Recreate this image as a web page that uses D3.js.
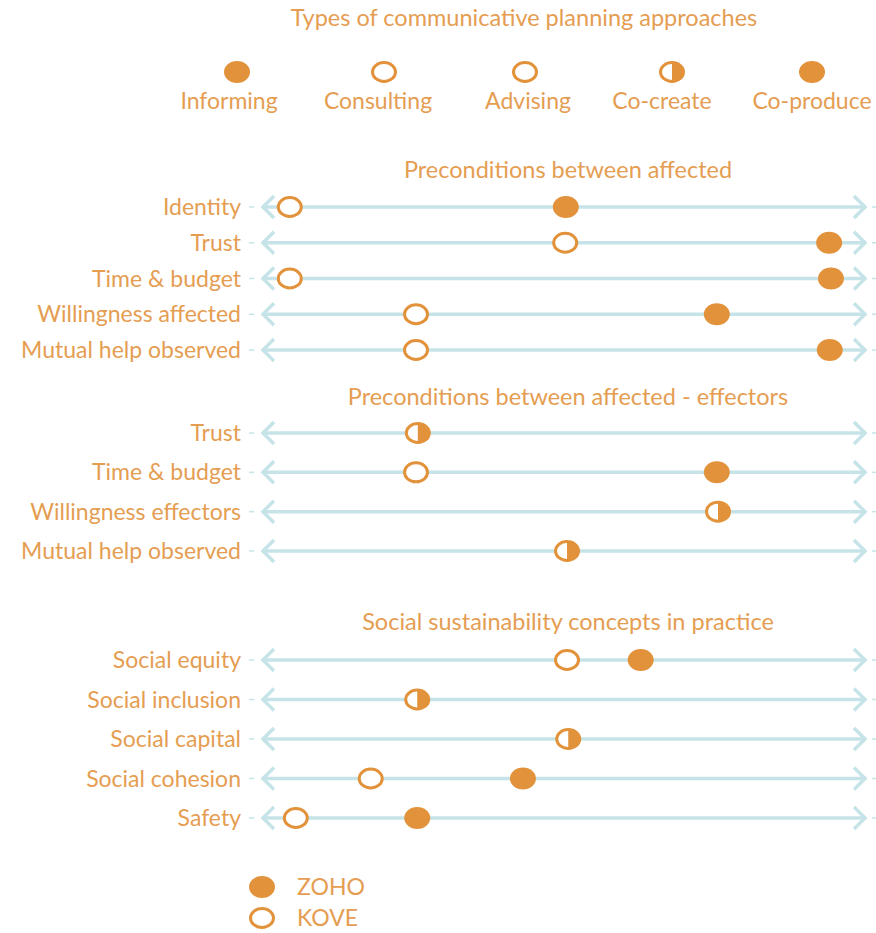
<!DOCTYPE html>
<html>
<head>
<meta charset="utf-8">
<script src="https://cdn.jsdelivr.net/npm/d3@7"></script>
<style>
  body { margin: 0; background: #fff; }
  text { font-family: Lato, "Open Sans", sans-serif; fill: #e59d52; }
</style>
</head>
<body>
<div id="chart"></div>
<script>
// Legend of approach types
const approachTypes = ["Informing", "Consulting", "Advising", "Co-create", "Co-produce"];
const approachSymbols = ["full", "open", "open", "half", "full"];

// Section titles and row labels
const sectionTitles = [
    "Preconditions between affected",
    "Preconditions between affected - effectors",
    "Social sustainability concepts in practice"
];
const section1Labels = ["Identity", "Trust", "Time & budget", "Willingness affected", "Mutual help observed"];
const section2Labels = ["Trust", "Time & budget", "Willingness effectors", "Mutual help observed"];
const section3Labels = ["Social equity", "Social inclusion", "Social capital", "Social cohesion", "Safety"];

// Position on the scale (0 = left end, 100 = right end); equal values = shared (half) marker
const section1Zoho = [50.3, 93.9, 94.2, 75.3, 94.0];
const section1Kove = [4.6, 50.2, 4.6, 25.5, 25.5];
const section2Zoho = [25.8, 75.3, 75.5, 50.5];
const section2Kove = [25.8, 25.5, 75.5, 50.5];
const section3Zoho = [62.7, 25.7, 50.7, 43.2, 25.7];
const section3Kove = [50.5, 25.7, 50.7, 18.0, 5.6];

const caseNames = ["ZOHO", "KOVE"];

const width = 876, height = 933;
const orange = "#e2923a";
const teal = "#c6e4e7";
const rx = 13, ry = 11;

let svg = d3.select("#chart")
    .append("svg")
    .attr("width", width)
    .attr("height", height);

let x = d3.scaleLinear().domain([0, 100]).range([262, 866]);

// draw one marker
function marker(g, kind, cx, cy) {
    if (kind === "full") {
        g.append("ellipse").attr("cx", cx).attr("cy", cy).attr("rx", rx).attr("ry", ry)
            .attr("fill", orange);
    } else if (kind === "open") {
        g.append("ellipse").attr("cx", cx).attr("cy", cy).attr("rx", rx - 1.5).attr("ry", ry - 1.5)
            .attr("fill", "#fff").attr("stroke", orange).attr("stroke-width", 3);
    } else {
        g.append("ellipse").attr("cx", cx).attr("cy", cy).attr("rx", rx - 1.5).attr("ry", ry - 1.5)
            .attr("fill", "#fff").attr("stroke", orange).attr("stroke-width", 3);
        g.append("path")
            .attr("d", `M${cx},${cy - ry + 1.5} A${rx - 1.5},${ry - 1.5} 0 0 1 ${cx},${cy + ry - 1.5} Z`)
            .attr("fill", orange);
    }
}

// Top title + legend
svg.append("text")
    .attr("x", 524).attr("y", 26)
    .style("text-anchor", "middle")
    .style("font-size", "23.5px")
    .text("Types of communicative planning approaches");

// legend layout (label centres / marker centres)
let legendTextX = [229, 378, 528, 662, 812];
let legendMarkX = [237, 384, 525, 672, 812];
approachTypes.forEach((t, i) => {
    let g = svg.append("g");
    marker(g, approachSymbols[i], legendMarkX[i], 72);
    g.append("text")
        .attr("x", legendTextX[i]).attr("y", 109)
        .style("text-anchor", "middle")
        .style("font-size", "23px")
        .text(t);
});

// Sections
const sections = [
    {title: sectionTitles[0], labels: section1Labels, zoho: section1Zoho, kove: section1Kove, titleY: 178, top: 207, bottom: 350},
    {title: sectionTitles[1], labels: section2Labels, zoho: section2Zoho, kove: section2Kove, titleY: 405, top: 433, bottom: 551},
    {title: sectionTitles[2], labels: section3Labels, zoho: section3Zoho, kove: section3Kove, titleY: 630, top: 660, bottom: 818}
];

sections.forEach(sec => {
    svg.append("text")
        .attr("x", (x.range()[0] + x.range()[1]) / 2 + 4).attr("y", sec.titleY)
        .style("text-anchor", "middle")
        .style("font-size", "23.5px")
        .text(sec.title);

    let y = d3.scalePoint().domain(d3.range(sec.labels.length)).range([sec.top, sec.bottom]);

    sec.labels.forEach((lab, i) => {
        let yy = y(i);
        let g = svg.append("g");
        // label
        g.append("text")
            .attr("x", 241).attr("y", yy)
            .attr("dy", "0.35em")
            .style("text-anchor", "end")
            .style("font-size", "23px")
            .text(lab);
        // little tick dashes
        g.append("line").attr("x1", 249).attr("x2", 254).attr("y1", yy).attr("y2", yy)
            .attr("stroke", teal).attr("stroke-width", 1.5);
        g.append("line").attr("x1", 872).attr("x2", 877).attr("y1", yy).attr("y2", yy)
            .attr("stroke", teal).attr("stroke-width", 1.5);
        // double arrow
        let x0 = x(0), x1 = x(100);
        g.append("line").attr("x1", x0).attr("x2", x1).attr("y1", yy).attr("y2", yy)
            .attr("stroke", teal).attr("stroke-width", 3.5);
        g.append("path")
            .attr("d", `M${x0 + 12},${yy - 11} L${x0 + 1},${yy} L${x0 + 12},${yy + 11}`)
            .attr("fill", "none").attr("stroke", teal).attr("stroke-width", 3.5);
        g.append("path")
            .attr("d", `M${x1 - 12},${yy - 11} L${x1 - 1},${yy} L${x1 - 12},${yy + 11}`)
            .attr("fill", "none").attr("stroke", teal).attr("stroke-width", 3.5);
        // markers
        let z = sec.zoho[i], k = sec.kove[i];
        if (z === k) {
            marker(g, "half", x(z), yy);
        } else {
            marker(g, "open", x(k), yy);
            marker(g, "full", x(z), yy);
        }
    });
});

// Case legend
caseNames.forEach((c, i) => {
    let yy = 887 + i * 31;
    let g = svg.append("g");
    marker(g, i === 0 ? "full" : "open", 262, yy);
    g.append("text")
        .attr("x", 297).attr("y", yy)
        .attr("dy", "0.35em")
        .style("font-size", "23px")
        .text(c);
});
</script>
</body>
</html>
